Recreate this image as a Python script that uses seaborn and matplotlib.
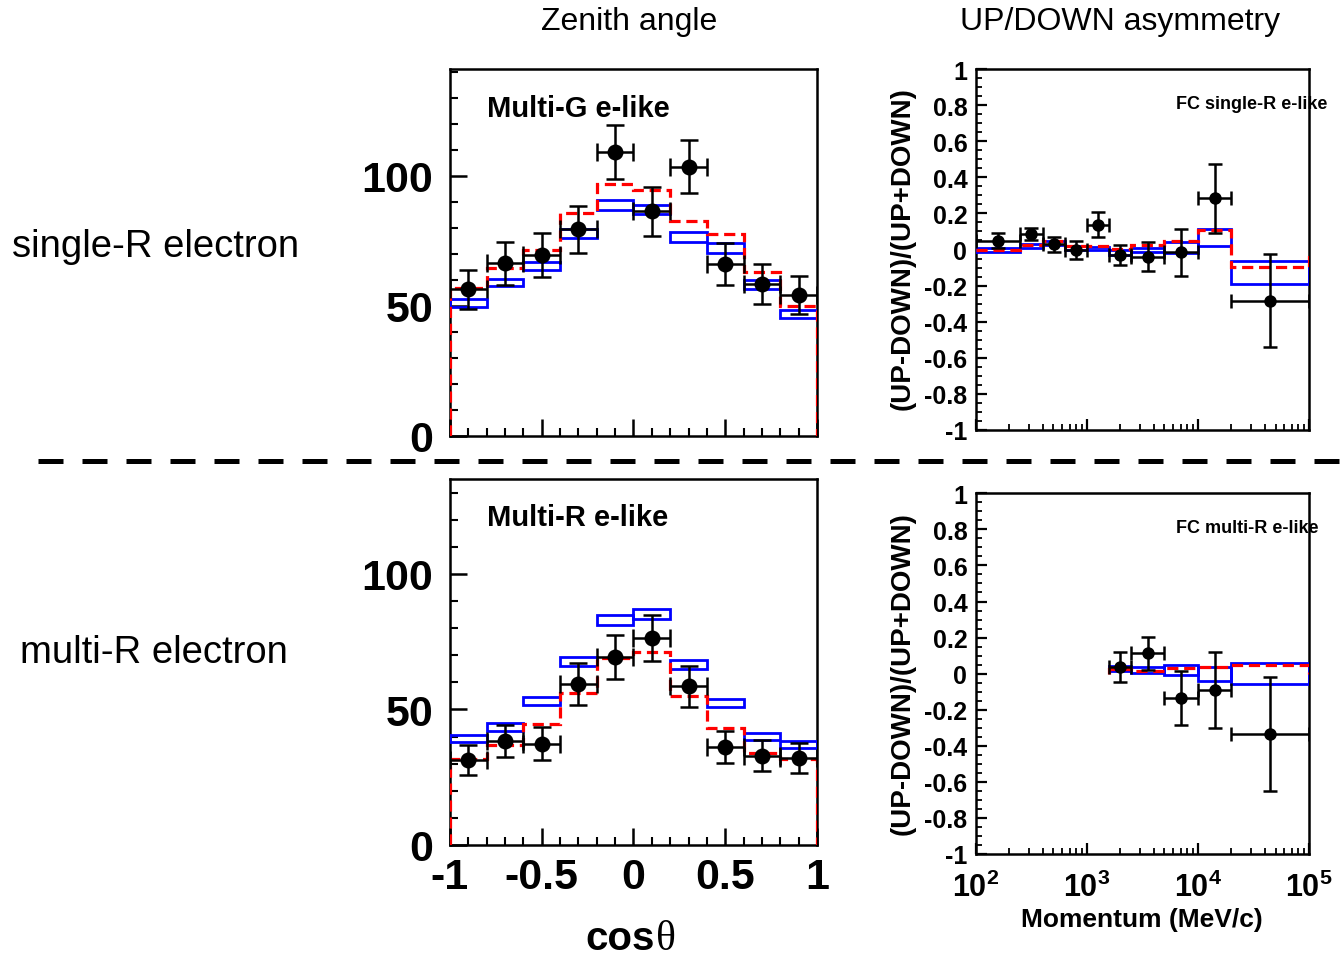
import numpy as np
import matplotlib
matplotlib.use("Agg")
import matplotlib.pyplot as plt
import matplotlib.ticker as mticker
from matplotlib.lines import Line2D
import seaborn as sns

sns.set_style("ticks")
plt.rcParams["font.family"] = ["Liberation Sans", "DejaVu Sans"]
plt.rcParams["font.weight"] = "bold"
plt.rcParams["text.color"] = "black"
plt.rcParams["axes.labelcolor"] = "black"
plt.rcParams["xtick.color"] = "black"
plt.rcParams["ytick.color"] = "black"
plt.rcParams["axes.unicode_minus"] = False
plt.rcParams["mathtext.fontset"] = "custom"
plt.rcParams["mathtext.rm"] = "Liberation Sans:bold"
plt.rcParams["mathtext.it"] = "Liberation Sans:bold"
plt.rcParams["mathtext.bf"] = "Liberation Sans:bold"

# ---- zenith angle (cos theta) bins ----
cos_edges = [-1.0, -0.8, -0.6, -0.4, -0.2, 0.0, 0.2, 0.4, 0.6, 0.8, 1.0]
cos_centers = [-0.9, -0.7, -0.5, -0.3, -0.1, 0.1, 0.3, 0.5, 0.7, 0.9]

# single-R electron (Multi-G e-like)
sr_data = [56.4, 66.3, 69.6, 79.4, 109.1, 86.4, 103.5, 66.1, 58.4, 54.2]
sr_err = [7.5, 8.2, 8.4, 8.9, 10.3, 9.4, 10.2, 8.2, 7.6, 7.4]
sr_red = [56.7, 64.7, 71.5, 85.7, 97.0, 94.7, 82.5, 77.6, 63.2, 49.9]
sr_blue_mid = [51.0, 59.0, 65.3, 77.9, 88.7, 87.0, 76.4, 72.4, 58.3, 46.9]
sr_blue_half = [1.5, 1.5, 1.6, 1.8, 1.9, 1.9, 1.8, 1.9, 1.8, 1.5]

# multi-R electron (Multi-R e-like)
mr_data = [31.3, 38.2, 37.4, 59.5, 69.4, 76.3, 58.5, 36.3, 33.0, 32.2]
mr_err = [5.6, 5.9, 6.2, 7.7, 8.2, 8.6, 7.5, 5.9, 5.8, 5.6]
mr_red = [31.6, 36.9, 44.7, 55.9, 68.9, 71.3, 55.1, 43.3, 33.8, 31.7]
mr_blue_mid = [39.3, 43.4, 53.2, 67.7, 82.9, 85.1, 66.5, 52.4, 40.1, 37.0]
mr_blue_half = [1.4, 1.5, 1.5, 1.7, 1.9, 1.9, 1.7, 1.5, 1.3, 1.4]

# ---- UP/DOWN asymmetry vs momentum ----
sr_p_edges = [100, 250, 400, 630, 1000, 1600, 2500, 5000, 10000, 20000, 100000]
sr_p_centers = [158, 316, 502, 794, 1265, 2000, 3536, 7071, 14142, 44721]
sr_asym = [0.049, 0.086, 0.030, -0.003, 0.138, -0.030, -0.040, -0.016, 0.284, -0.284]
sr_asym_err = [0.040, 0.035, 0.042, 0.050, 0.068, 0.056, 0.080, 0.130, 0.190, 0.258]
sr_asym_red = [0.0, 0.025, 0.049, 0.020, 0.020, 0.003, 0.025, 0.045, 0.110, -0.099]
sr_asym_blue_mid = [-0.003, 0.018, 0.037, 0.010, 0.005, -0.017, -0.003, 0.012, 0.068, -0.127]
sr_asym_blue_half = [0.009, 0.012, 0.012, 0.010, 0.010, 0.012, 0.012, 0.032, 0.046, 0.062]

mr_p_edges = [1600, 2500, 5000, 10000, 20000, 100000]
mr_p_centers = [2000, 3536, 7071, 14142, 44721]
mr_asym = [0.039, 0.113, -0.135, -0.090, -0.333]
mr_asym_err = [0.083, 0.092, 0.148, 0.210, 0.315]
mr_asym_red = [0.026, 0.013, 0.033, 0.039, 0.048]
mr_asym_blue_mid = [0.026, 0.020, 0.020, -0.003, 0.001]
mr_asym_blue_half = [0.014, 0.017, 0.026, 0.040, 0.060]

W, H = 1344, 962
fig = plt.figure(figsize=(W / 100, H / 100), dpi=100)


def fig_rect(x0, y0, x1, y1):
    return [x0 / W, 1 - y1 / H, (x1 - x0) / W, (y1 - y0) / H]


RED_LS = (0, (3.5, 1.8))


def draw_panel(ax, edges, centers, data, err, red, bmid, bhalf, msize, cap):
    edges = np.asarray(edges, dtype=float)
    widths = np.diff(edges)
    bmid = np.asarray(bmid)
    bhalf = np.asarray(bhalf)
    ax.bar(edges[:-1], 2 * bhalf, width=widths, bottom=bmid - bhalf, align="edge",
           fill=False, edgecolor="#0000ff", linewidth=2.0, zorder=3)
    ax.stairs(red, edges, baseline=0, color="#ff0000", linewidth=2.3,
              linestyle=RED_LS, zorder=4)
    xlo = np.asarray(centers) - edges[:-1]
    xhi = edges[1:] - np.asarray(centers)
    ax.errorbar(centers, data, yerr=err, xerr=[xlo, xhi], fmt="none",
                ecolor="black", elinewidth=1.8, capsize=cap, capthick=1.8, zorder=5)
    sns.scatterplot(x=centers, y=data, ax=ax, color="black", s=msize ** 2,
                    edgecolor="black", linewidth=0, zorder=6, legend=False)


def style_frame(ax):
    for sp in ax.spines.values():
        sp.set_visible(True)
        sp.set_linewidth(1.8)
        sp.set_color("black")
    ax.tick_params(which="both", direction="in", top=False, right=False,
                   colors="black")


# ---------------- left panels ----------------
left_specs = [
    (fig_rect(450, 70, 817, 437), sr_data, sr_err, sr_red, sr_blue_mid, sr_blue_half,
     141, "Multi-G e-like", False),
    (fig_rect(450, 480, 817, 846), mr_data, mr_err, mr_red, mr_blue_mid, mr_blue_half,
     135, "Multi-R e-like", True),
]
for rect, d, e, r, bm, bh, ytop, title, show_x in left_specs:
    ax = fig.add_axes(rect)
    draw_panel(ax, cos_edges, cos_centers, d, e, r, bm, bh, 11.5, 6.5)
    ax.set_xlim(-1, 1)
    ax.set_ylim(0, ytop)
    style_frame(ax)
    ax.xaxis.set_major_locator(mticker.MultipleLocator(0.5))
    ax.xaxis.set_minor_locator(mticker.MultipleLocator(0.1))
    ax.yaxis.set_major_locator(mticker.MultipleLocator(50))
    ax.yaxis.set_minor_locator(mticker.MultipleLocator(10))
    ax.tick_params(which="major", length=12, width=1.8, labelsize=31, pad=12)
    ax.tick_params(axis="x", which="major", pad=9)
    ax.tick_params(which="minor", length=6, width=1.5)
    ax.xaxis.set_major_formatter(mticker.FuncFormatter(lambda v, p: "%g" % v))
    if not show_x:
        ax.tick_params(axis="x", labelbottom=False)
    ax.set_xlabel("")
    ax.set_ylabel("")
    ax.text(0.1, 0.895, title, transform=ax.transAxes, fontsize=21,
            fontweight="bold", ha="left", va="center")

# ---------------- right panels ----------------
right_specs = [
    (fig_rect(975.7, 70, 1309, 431), sr_p_edges, sr_p_centers, sr_asym, sr_asym_err,
     sr_asym_red, sr_asym_blue_mid, sr_asym_blue_half, "FC single-R e-like", False),
    (fig_rect(975.7, 494.3, 1309, 855), mr_p_edges, mr_p_centers, mr_asym, mr_asym_err,
     mr_asym_red, mr_asym_blue_mid, mr_asym_blue_half, "FC multi-R e-like", True),
]
for rect, pe, pc, d, e, r, bm, bh, title, show_x in right_specs:
    ax = fig.add_axes(rect)
    ax.set_xscale("log")
    draw_panel(ax, pe, pc, d, e, r, bm, bh, 9, 5)
    ax.set_xlim(100, 100000)
    ax.set_ylim(-1, 1)
    style_frame(ax)
    ax.yaxis.set_major_locator(mticker.MultipleLocator(0.2))
    ax.yaxis.set_minor_locator(mticker.MultipleLocator(0.05))
    ax.yaxis.set_major_formatter(mticker.FuncFormatter(lambda v, p: "%g" % round(v, 2)))
    ax.xaxis.set_major_locator(mticker.LogLocator(base=10, numticks=10))
    ax.xaxis.set_minor_locator(mticker.LogLocator(base=10, subs=np.arange(2, 10), numticks=10))
    ax.xaxis.set_minor_formatter(mticker.NullFormatter())
    ax.xaxis.set_major_formatter(
        mticker.FuncFormatter(lambda v, p: r"$10^{%d}$" % round(np.log10(v))))
    ax.tick_params(which="major", length=8, width=1.6)
    ax.tick_params(axis="y", which="major", labelsize=18, pad=6)
    ax.tick_params(axis="x", which="major", labelsize=22, pad=13)
    ax.tick_params(which="minor", length=4, width=1.3)
    if not show_x:
        ax.tick_params(axis="x", labelbottom=False)
    ax.set_xlabel("")
    ax.set_ylabel("")
    ax.text(0.6, 0.905, title, transform=ax.transAxes, fontsize=13,
            fontweight="bold", ha="left", va="center")

# y labels of right panels
for yc in [249, 674]:
    fig.text(903 / W, 1 - yc / H, "(UP-DOWN)/(UP+DOWN)", rotation=90,
             fontsize=20, fontweight="bold", ha="center", va="center")

fig.text(1142 / W, 1 - 920 / H, "Momentum (MeV/c)", fontsize=19,
         fontweight="bold", ha="center", va="center")

# cos(theta) label
fig.text(655 / W, 1 - 950 / H, "cos", fontsize=29, fontweight="bold",
         ha="right", va="baseline")
fig.text(656 / W, 1 - 950 / H, "\u03b8", fontsize=30, fontweight="normal",
         family=["Liberation Serif", "DejaVu Serif"], ha="left", va="baseline")

# headers and row labels
fig.text(629 / W, 1 - 22 / H, "Zenith angle", fontsize=23, fontweight="normal",
         ha="center", va="center")
fig.text(1120 / W, 1 - 22 / H, "UP/DOWN asymmetry", fontsize=23,
         fontweight="normal", ha="center", va="center")
fig.text(12 / W, 1 - 247 / H, "single-R electron", fontsize=27.5,
         fontweight="normal", ha="left", va="center")
fig.text(20 / W, 1 - 653 / H, "multi-R electron", fontsize=27.5,
         fontweight="normal", ha="left", va="center")

# dashed separator
fig.add_artist(Line2D([38 / W, 1.0], [1 - 462 / H, 1 - 462 / H],
                      transform=fig.transFigure, color="black", linewidth=3.6,
                      linestyle=(0, (5.0, 3.8))))

fig.savefig("out.png", dpi=100)
